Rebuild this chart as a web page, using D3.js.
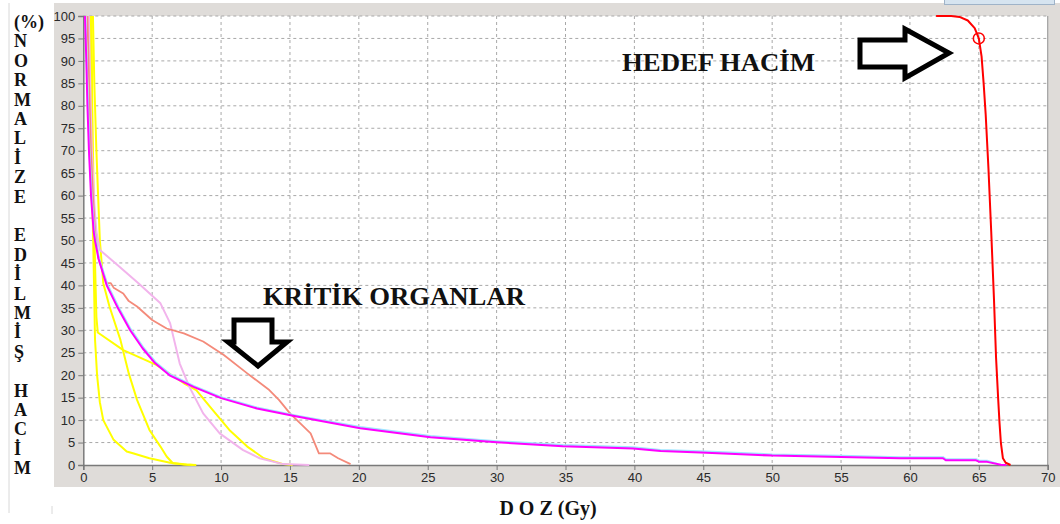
<!DOCTYPE html>
<html>
<head>
<meta charset="utf-8">
<script src="https://cdn.jsdelivr.net/npm/d3@7"></script>
<style>
  html, body { margin: 0; padding: 0; background: #ffffff; }
  svg { display: block; }
</style>
</head>
<body>
<svg id="chart" width="1060" height="524"></svg>
<script>
// ---------------- DATA ----------------
const xTicks = [0, 5, 10, 15, 20, 25, 30, 35, 40, 45, 50, 55, 60, 65, 70];
const yTicks = [0, 5, 10, 15, 20, 25, 30, 35, 40, 45, 50, 55, 60, 65, 70, 75, 80, 85, 90, 95, 100];

const yLabelLetters = ["(%)", "N", "O", "R", "M", "A", "L", "İ", "Z", "E", "", "E", "D", "İ", "L", "M", "İ", "Ş", "", "H", "A", "C", "İ", "M"];
const xTitle = "D O Z (Gy)";
const targetLabel = "HEDEF HACİM";
const organLabel = "KRİTİK ORGANLAR";

// target volume (red)
const targetDVH = [[61.9,100],[63.0,100],[63.6,99.8],[64.2,99],[64.7,97.3],[65.0,95],[65.2,91],[65.35,85],[65.5,78],[65.7,66],[65.9,52],[66.1,37],[66.25,24],[66.4,15],[66.5,9.5],[66.6,5],[66.75,1.5],[66.95,0.5],[67.3,0]];
const targetMarker = [[65.0, 95]];

// light-blue organ (drawn beneath magenta)
const cyanDVH = [[0.15,100],[0.25,90],[0.35,80],[0.45,70],[0.6,60],[0.8,52],[0.9,50],[1.15,46],[1.75,40.2],[2.55,35.2],[3.45,30.2],[4.35,26.2],[5.25,22.9],[6.35,20.1],[8.0,17.6],[10,15.1],[12.6,12.8],[15.5,11.0],[20.1,8.45],[25.2,6.45],[30,5.3],[34.8,4.45],[39.9,3.95],[41.9,3.35],[44.8,3.05],[50,2.35],[55,2.05],[59.3,1.75],[62.4,1.75],[62.6,1.3],[64.8,1.3],[65.0,1.0],[65.6,0.95],[66.4,0.2]];
// magenta organ
const magentaDVH = [[0.12,100],[0.22,90],[0.3,80],[0.41,70],[0.56,60],[0.75,52],[0.85,50],[1.1,46],[1.7,40],[2.5,35],[3.4,30],[4.3,26],[5.2,22.7],[6.3,19.9],[8.0,17.4],[10,14.9],[12.6,12.6],[15.5,10.8],[20.1,8.2],[25.2,6.2],[30,5.05],[34.8,4.2],[39.9,3.7],[41.9,3.1],[44.8,2.8],[50,2.1],[55,1.8],[59.3,1.5],[62.4,1.5],[62.6,1.05],[64.8,1.05],[65.0,0.75],[65.6,0.7],[66.6,0.05],[67.0,0]];
// salmon organ
const salmonDVH = [[0.3,100],[0.42,85],[0.55,70],[0.7,60],[0.85,52],[1.1,46],[1.45,42.7],[1.7,40.5],[2.0,40.5],[2.2,39.5],[2.9,38.2],[3.3,36.5],[3.9,35.3],[5.0,32.3],[6.05,30.4],[7.3,29.3],[8.7,27.5],[10.2,24.5],[11.9,20.4],[13.5,16.7],[14.2,14.5],[15.0,11.5],[16.5,7.05],[17.1,2.6],[17.9,2.6],[18.5,1.5],[19.4,0.2]];
// light pink organ
const pinkDVH = [[0.4,100],[0.5,85],[0.62,70],[0.8,58],[0.95,52],[1.2,47.9],[2.5,44.5],[4.0,40.5],[5.6,36],[6.3,31.6],[7.0,22.6],[7.7,17.4],[8.7,11.5],[9.9,7.05],[11.6,3.3],[12.8,1.5],[14.5,0.2],[16.4,0]];
// yellow organs
const yellow1DVH = [[0.5,100],[0.55,80],[0.65,60],[0.75,45],[0.85,28],[1.0,20],[1.2,14],[1.45,10],[2.2,5.6],[3.15,3.0],[3.6,2.6],[4.8,1.5],[6.3,0.5],[7.5,0.1],[8.0,0]];
const yellow2DVH = [[0.6,100],[0.65,80],[0.75,60],[0.85,45],[0.95,33],[1.05,29.5],[2.9,25.6],[5.3,22.3],[7.3,18.2],[8.2,16.7],[9.4,12.2],[10.6,7.8],[11.9,4.1],[13.1,1.5],[14.5,0.2],[15.2,0]];
const yellow3DVH = [[0.7,100],[0.8,85],[0.95,70],[1.1,58],[1.2,50.1],[1.45,40.5],[1.9,35.3],[2.7,27.8],[3.3,20.4],[3.9,14.5],[4.8,7.8],[5.6,4.1],[6.05,1.9],[6.5,0.4],[7.3,0.1],[8.2,0]];

// ---------------- DRAW ----------------
const svg = d3.select("#chart");
const L = 83.3, R = 1047.7, T = 16, B = 465;

const x = d3.scaleLinear().domain([0, 70]).range([L, R]);
const y = d3.scaleLinear().domain([0, 100]).range([B, T]);

// outer frame lines on the far left
svg.append("line").attr("x1", 9).attr("x2", 9).attr("y1", 3).attr("y2", 513)
  .attr("stroke", "#d8d8d8").attr("stroke-width", 1);
svg.append("line").attr("x1", 52).attr("x2", 52).attr("y1", 506).attr("y2", 514)
  .attr("stroke", "#d8d8d8").attr("stroke-width", 1);

// gray panel
svg.append("rect").attr("x", 54).attr("y", 3).attr("width", 1006).attr("height", 484)
  .attr("fill", "#dfdcd9");
// small light-blue box top right
svg.append("rect").attr("x", 944.5).attr("y", -2).attr("width", 110).attr("height", 6.5)
  .attr("fill", "#d6e4f0").attr("stroke", "#9fb3c8").attr("stroke-width", 1);

// white plot area
svg.append("rect").attr("x", L).attr("y", T).attr("width", R - L).attr("height", B - T)
  .attr("fill", "#ffffff");

// grid
const grid = svg.append("g");
grid.selectAll(".vg").data(xTicks.filter(d => d > 0 && d < 70)).join("line")
  .attr("x1", d => x(d)).attr("x2", d => x(d)).attr("y1", T).attr("y2", B)
  .attr("stroke", "#a8a8a8").attr("stroke-width", 1).attr("stroke-dasharray", "3,3");
grid.selectAll(".hg").data(yTicks.filter(d => d > 0)).join("line")
  .attr("x1", L).attr("x2", R).attr("y1", d => y(d)).attr("y2", d => y(d))
  .attr("stroke", "#a8a8a8").attr("stroke-width", 1).attr("stroke-dasharray", "3,3");
// right border
svg.append("line").attr("x1", R).attr("x2", R).attr("y1", T).attr("y2", B)
  .attr("stroke", "#a0a0a0").attr("stroke-width", 1.2);

// axes
const yAxis = d3.axisLeft(y).tickValues(yTicks).tickSize(5).tickPadding(3).tickFormat(d3.format("d"));
const xAxis = d3.axisBottom(x).tickValues(xTicks).tickSize(5).tickPadding(3).tickFormat(d3.format("d"));
const gy = svg.append("g").attr("transform", `translate(${L},0)`).call(yAxis);
const gx = svg.append("g").attr("transform", `translate(0,${B})`).call(xAxis);
[gx, gy].forEach(g => {
  g.select(".domain").attr("stroke", "#7a7a7a").attr("stroke-width", 1.5);
  g.selectAll(".tick line").attr("stroke", "#7a7a7a");
  g.selectAll(".tick text").attr("fill", "#2a2a2a")
    .style("font-family", "'Liberation Sans', Arial, sans-serif").style("font-size", "13px");
});

// curves
const line = d3.line().x(d => x(d[0])).y(d => y(d[1]));
const curves = svg.append("g").attr("fill", "none").attr("stroke-linejoin", "round");
const series = [
  { data: yellow1DVH, color: "#ffff00", w: 2 },
  { data: yellow2DVH, color: "#ffff00", w: 2 },
  { data: yellow3DVH, color: "#ffff00", w: 2 },
  { data: pinkDVH, color: "#f2b4ec", w: 2 },
  { data: salmonDVH, color: "#f48a7a", w: 1.8 },
  { data: cyanDVH, color: "#9fe6ff", w: 2 },
  { data: magentaDVH, color: "#ff00ff", w: 2 },
  { data: targetDVH, color: "#ff0000", w: 2 }
];
series.forEach(s => {
  curves.append("path").datum(s.data).attr("d", line)
    .attr("stroke", s.color).attr("stroke-width", s.w);
});
svg.selectAll(".marker").data(targetMarker).join("circle")
  .attr("cx", d => x(d[0])).attr("cy", d => y(d[1])).attr("r", 5.5)
  .attr("fill", "none").attr("stroke", "#ff0000").attr("stroke-width", 1.5);

// y-axis title (stacked letters)
const serif = "'Liberation Serif', 'Times New Roman', serif";
svg.append("g").selectAll("text").data(yLabelLetters).join("text")
  .attr("x", 14).attr("y", (d, i) => 28 + i * 19.4)
  .attr("font-family", serif).attr("font-weight", "bold").attr("font-size", 18)
  .attr("fill", "#111").text(d => d);

// x-axis title
svg.append("text").attr("x", 548).attr("y", 515).attr("text-anchor", "middle")
  .attr("font-family", serif).attr("font-weight", "bold").attr("font-size", 20)
  .attr("fill", "#111").text(xTitle);

// annotations
svg.append("text").attr("x", 622).attr("y", 71)
  .attr("font-family", serif).attr("font-weight", "bold").attr("font-size", 26)
  .attr("textLength", 193).attr("lengthAdjust", "spacingAndGlyphs")
  .attr("fill", "#111").text(targetLabel);
svg.append("text").attr("x", 263).attr("y", 305)
  .attr("font-family", serif).attr("font-weight", "bold").attr("font-size", 26)
  .attr("textLength", 262).attr("lengthAdjust", "spacingAndGlyphs")
  .attr("fill", "#111").text(organLabel);

// arrows
svg.append("path")
  .attr("d", "M860,40 L905,40 L905,29 L949,53 L905,78 L905,67 L860,67 Z")
  .attr("fill", "#ffffff").attr("stroke", "#000").attr("stroke-width", 5).attr("stroke-linejoin", "miter");
svg.append("path")
  .attr("d", "M234,320 L272,320 L272,342 L287,342 L258,366 L228,342 L234,342 Z")
  .attr("fill", "#ffffff").attr("stroke", "#000").attr("stroke-width", 5).attr("stroke-linejoin", "miter");
</script>
</body>
</html>
